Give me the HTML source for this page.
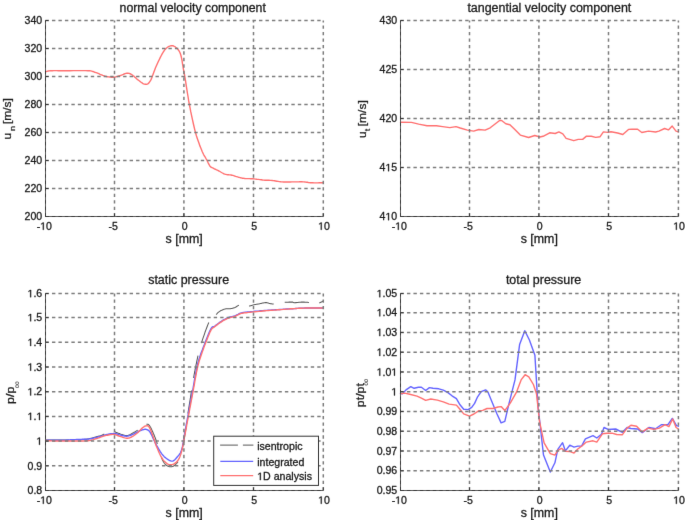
<!DOCTYPE html>
<html><head><meta charset="utf-8"><style>
html,body{margin:0;padding:0;background:#fff;}
svg{display:block;}
text{font-family:"Liberation Sans", sans-serif;stroke:#1a1a1a;stroke-width:0.3px;}
</style></head><body>
<svg width="685" height="520" viewBox="0 0 685 520" font-family='"Liberation Sans", sans-serif' fill="#1a1a1a">
<defs><filter id="soft" x="0" y="0" width="100%" height="100%" color-interpolation-filters="sRGB"><feConvolveMatrix order="3" kernelMatrix="0 1 0 1 12 1 0 1 0" divisor="16" edgeMode="duplicate"/></filter></defs>
<g filter="url(#soft)">
<rect width="685" height="520" fill="#ffffff"/>
<path d="M45.6 71.7 L46.0 71.6 L46.4 71.5 L47.0 71.4 L47.6 71.2 L48.3 71.0 L49.1 70.9 L50.1 70.8 L51.2 70.7 L52.4 70.7 L53.7 70.6 L55.1 70.6 L56.7 70.6 L58.4 70.7 L60.2 70.7 L62.2 70.7 L64.4 70.7 L67.0 70.7 L69.9 70.7 L73.2 70.6 L76.5 70.6 L79.8 70.6 L82.9 70.6 L85.7 70.6 L87.9 70.7 L89.6 70.8 L90.8 70.9 L91.7 71.1 L92.3 71.3 L92.9 71.5 L93.5 71.7 L94.2 72.0 L95.1 72.3 L96.2 72.7 L97.5 73.2 L98.8 73.7 L100.1 74.3 L101.5 74.8 L102.8 75.4 L104.1 75.8 L105.3 76.2 L106.4 76.5 L107.5 76.7 L108.6 76.9 L109.7 77.0 L110.7 77.1 L111.6 77.2 L112.6 77.2 L113.5 77.2 L114.4 77.1 L115.1 77.0 L115.9 76.9 L116.6 76.7 L117.3 76.5 L118.0 76.3 L118.8 76.0 L119.6 75.8 L120.5 75.5 L121.4 75.2 L122.3 74.8 L123.3 74.4 L124.2 74.0 L125.1 73.7 L126.0 73.4 L126.8 73.3 L127.5 73.3 L128.2 73.3 L128.8 73.4 L129.4 73.5 L130.0 73.7 L130.6 74.0 L131.2 74.3 L131.9 74.7 L132.6 75.2 L133.3 75.8 L134.1 76.4 L134.8 77.1 L135.6 77.8 L136.4 78.6 L137.2 79.3 L138.0 79.9 L138.9 80.5 L139.8 81.2 L140.7 82.0 L141.7 82.6 L142.6 83.3 L143.5 83.8 L144.4 84.1 L145.2 84.3 L145.9 84.3 L146.6 84.3 L147.2 84.1 L147.8 83.8 L148.4 83.4 L149.0 82.8 L149.6 81.9 L150.3 80.9 L151.0 79.6 L151.7 78.0 L152.4 76.1 L153.2 74.1 L153.9 72.0 L154.7 69.9 L155.5 67.8 L156.4 65.8 L157.3 63.8 L158.2 61.8 L159.2 59.7 L160.2 57.6 L161.3 55.5 L162.3 53.7 L163.3 52.0 L164.2 50.6 L165.1 49.4 L166.0 48.5 L166.9 47.7 L167.8 47.0 L168.7 46.5 L169.6 46.2 L170.4 45.9 L171.2 45.7 L172.0 45.6 L172.8 45.7 L173.5 45.9 L174.2 46.3 L175.0 46.7 L175.6 47.2 L176.3 47.7 L176.9 48.3 L177.5 48.9 L178.0 49.5 L178.5 50.2 L179.0 50.9 L179.5 51.7 L180.0 52.7 L180.4 53.8 L180.8 55.0 L181.2 56.5 L181.6 58.3 L182.0 60.2 L182.3 62.3 L182.6 64.4 L183.0 66.3 L183.2 68.1 L183.5 69.6 L183.7 70.7 L183.8 71.3 L183.9 71.7 L184.0 72.1 L184.1 72.6 L184.3 73.3 L184.5 74.5 L184.8 76.3 L185.2 78.8 L185.7 81.9 L186.2 85.3 L186.8 89.1 L187.4 93.0 L188.1 97.0 L188.7 100.9 L189.4 104.6 L190.1 108.2 L190.8 111.9 L191.6 115.6 L192.4 119.3 L193.2 123.0 L194.0 126.5 L194.8 129.8 L195.6 132.9 L196.4 135.8 L197.3 138.5 L198.2 141.1 L199.1 143.6 L199.9 145.9 L200.8 148.0 L201.6 149.9 L202.3 151.7 L203.0 153.2 L203.6 154.5 L204.1 155.5 L204.7 156.4 L205.2 157.2 L205.7 158.0 L206.1 158.8 L206.6 159.6 L207.1 160.5 L207.5 161.4 L207.9 162.3 L208.3 163.1 L208.7 163.9 L209.1 164.7 L209.5 165.3 L209.8 165.9 L210.1 166.3 L210.3 166.6 L210.5 166.8 L210.7 167.0 L210.9 167.1 L211.2 167.2 L211.5 167.4 L212.0 167.6 L212.6 167.9 L213.3 168.2 L214.0 168.6 L214.8 169.0 L215.7 169.4 L216.5 169.8 L217.4 170.2 L218.2 170.6 L219.0 171.0 L219.9 171.5 L220.7 172.0 L221.6 172.5 L222.4 173.0 L223.3 173.5 L224.1 173.9 L225.0 174.2 L225.9 174.4 L226.7 174.6 L227.6 174.7 L228.4 174.8 L229.3 174.9 L230.1 174.9 L231.0 175.0 L231.9 175.2 L232.8 175.4 L233.7 175.7 L234.7 176.0 L235.6 176.3 L236.6 176.6 L237.5 176.9 L238.4 177.2 L239.2 177.4 L240.0 177.6 L240.6 177.8 L241.3 177.9 L241.9 178.1 L242.5 178.2 L243.2 178.3 L243.9 178.4 L244.7 178.5 L245.6 178.6 L246.5 178.6 L247.5 178.6 L248.5 178.6 L249.5 178.6 L250.6 178.7 L251.7 178.7 L252.9 178.8 L254.2 178.9 L255.5 179.1 L256.9 179.3 L258.4 179.4 L259.9 179.6 L261.3 179.8 L262.6 180.0 L263.9 180.1 L265.0 180.2 L266.1 180.2 L267.1 180.3 L268.1 180.3 L269.0 180.3 L270.0 180.4 L271.0 180.4 L272.1 180.5 L273.2 180.6 L274.4 180.8 L275.6 181.0 L276.8 181.2 L278.1 181.4 L279.4 181.6 L280.7 181.8 L282.1 181.9 L283.6 182.0 L285.2 182.0 L286.9 182.0 L288.6 182.0 L290.2 182.0 L291.9 181.9 L293.5 181.9 L294.9 181.9 L296.2 181.9 L297.5 181.9 L298.7 181.9 L299.8 181.8 L300.9 181.8 L301.9 181.8 L303.0 181.9 L304.0 181.9 L305.0 182.0 L305.8 182.1 L306.7 182.2 L307.5 182.3 L308.3 182.5 L309.2 182.6 L310.2 182.7 L311.3 182.8 L312.6 182.8 L314.2 182.9 L315.9 182.9 L317.7 182.9 L319.4 182.8 L321.0 182.8 L322.3 182.8 L323.2 182.8" fill="none" stroke="#ff7070" stroke-width="1.4" stroke-linejoin="round" stroke-linecap="round"/>
<path d="M400.5 122.2 L411.5 122.4 L418.7 124.1 L427.0 125.7 L436.4 125.7 L442.6 126.6 L449.8 127.6 L456.0 126.6 L460.2 128.0 L467.4 130.1 L473.7 131.1 L478.8 129.5 L485.1 130.1 L490.2 127.8 L495.4 123.7 L499.6 120.5 L501.6 120.5 L505.8 123.7 L509.9 124.7 L514.1 128.8 L520.3 135.1 L528.6 137.5 L534.8 135.5 L539.9 137.0 L543.1 136.3 L549.7 132.8 L555.2 133.5 L558.9 131.9 L562.8 133.9 L566.1 138.3 L573.8 140.7 L578.2 139.4 L582.6 139.4 L586.5 136.1 L591.3 136.3 L595.7 137.4 L600.1 136.7 L603.4 131.9 L607.7 132.4 L611.0 131.7 L617.6 133.0 L622.8 134.5 L628.5 129.4 L631.9 129.3 L637.6 129.3 L641.8 132.5 L648.5 131.1 L655.6 132.0 L658.9 131.1 L664.6 128.5 L668.4 129.9 L672.2 126.1 L676.0 131.1 L678.4 131.8" fill="none" stroke="#ff7070" stroke-width="1.4" stroke-linejoin="round" stroke-linecap="round"/>
<path d="M45.6 440.0 L46.6 440.0 L48.0 440.0 L49.6 440.0 L51.3 440.0 L53.2 440.0 L55.3 440.0 L57.3 440.0 L59.4 440.0 L61.4 440.0 L63.3 440.0 L65.2 440.0 L67.2 439.9 L69.3 439.9 M81.0 439.6 L82.5 439.5 L83.7 439.4 L84.8 439.3 L85.7 439.3 L86.5 439.2 L87.1 439.1 L87.7 439.0 L88.3 438.9 L88.9 438.8 L89.5 438.6 L90.2 438.5 L90.9 438.3 L91.7 438.1 L92.4 437.9 L93.1 437.7 L93.8 437.5 L94.5 437.3 L95.2 437.1 L95.8 436.9 L96.4 436.7 L97.0 436.5 L97.5 436.4 L98.0 436.3 L98.5 436.2 L98.9 436.1 L99.3 436.0 L99.7 436.0 L100.1 435.9 L100.5 435.8 L101.0 435.7 L101.4 435.5 L101.9 435.3 L102.4 435.1 L102.8 434.8 L103.3 434.5 L103.8 434.3 L104.3 434.0 M115.0 431.8 L115.4 432.0 L115.8 432.2 L116.3 432.4 L116.7 432.6 L117.2 432.8 L117.7 433.0 L118.3 433.2 L118.9 433.4 L119.6 433.6 L120.3 433.9 L121.1 434.2 L121.9 434.4 L122.8 434.7 L123.6 435.0 L124.5 435.2 L125.3 435.4 L126.1 435.5 L126.8 435.5 L127.5 435.4 L128.1 435.3 L128.8 435.1 L129.4 434.9 L130.0 434.6 L130.6 434.3 L131.2 434.0 L131.7 433.6 L132.3 433.3 L132.9 433.0 L133.5 432.7 L134.1 432.3 L134.7 432.0 L135.3 431.6 L135.9 431.3 L136.5 430.9 L137.1 430.5 L137.6 430.1 M146.4 424.2 L146.8 424.2 L147.1 424.2 L147.5 424.2 L147.9 424.3 L148.3 424.5 L148.7 424.8 L149.1 425.2 L149.5 425.7 L150.0 426.4 L150.5 427.3 L151.1 428.3 L151.6 429.4 L152.2 430.7 L152.8 432.0 L153.4 433.5 L154.1 435.0 L154.7 436.6 L155.4 438.3 L156.0 440.0 L156.7 441.9 L157.3 444.0 M161.6 457.7 L162.3 459.5 L163.0 461.0 L163.7 462.2 L164.4 463.3 L165.1 464.2 L165.9 464.9 L166.6 465.5 L167.3 465.9 L168.0 466.3 L168.8 466.5 L169.5 466.7 L170.2 466.8 L170.9 466.8 L171.7 466.7 L172.4 466.5 L173.2 466.2 L174.0 465.8 L174.7 465.3 L175.4 464.7 L176.1 464.0 L176.8 463.3 L177.4 462.5 L178.0 461.6 M182.0 450.0 L182.4 448.1 L182.9 446.0 L183.3 443.8 L183.8 441.4 L184.2 438.9 L184.6 436.5 L185.0 434.1 L185.4 431.9 L185.7 429.8 L186.0 428.0 L186.2 426.5 M187.9 413.7 L188.4 410.4 L189.0 406.8 L189.6 402.8 L190.3 398.7 L190.9 394.5 L191.6 390.5 M193.6 378.0 L193.9 376.0 L194.2 374.3 L194.5 372.8 L194.7 371.4 L195.0 370.2 L195.2 368.9 L195.5 367.6 L195.8 366.2 L196.1 364.6 L196.5 362.8 L196.8 361.1 L197.2 359.3 L197.6 357.5 L198.0 355.6 M201.4 343.2 L202.2 340.6 L203.1 337.9 L204.1 335.1 L205.0 332.3 L206.0 329.6 L207.0 327.0 L207.9 324.6 L208.8 322.5 M216.1 314.5 L216.6 314.1 L217.0 313.7 L217.3 313.3 L217.6 313.0 L217.9 312.7 L218.2 312.4 L218.5 312.2 L218.8 311.9 L219.2 311.7 L219.6 311.4 L220.1 311.1 L220.6 310.8 L221.1 310.5 L221.7 310.3 L222.3 310.0 L222.9 309.7 L223.5 309.5 L224.1 309.2 L224.7 309.1 L225.3 308.9 L225.9 308.8 L226.5 308.7 L227.1 308.7 L227.6 308.7 L228.2 308.7 L228.8 308.7 L229.4 308.7 L229.9 308.7 L230.5 308.7 L231.0 308.6 L231.5 308.5 L232.0 308.4 L232.4 308.3 L232.9 308.2 L233.3 308.1 L233.7 308.0 L234.1 307.8 L234.5 307.7 L235.0 307.5 L235.4 307.3 L235.8 307.1 L236.3 306.8 L236.7 306.5 L237.1 306.2 L237.6 305.9 L238.0 305.6 L238.5 305.4 L238.9 305.1 M249.0 306.1 L249.5 306.0 L249.9 306.0 L250.4 305.8 L250.9 305.7 L251.4 305.5 L251.8 305.4 L252.3 305.2 L252.8 305.1 L253.3 304.9 L253.8 304.8 L254.3 304.7 L254.8 304.6 L255.3 304.5 L255.8 304.4 L256.3 304.3 L256.8 304.3 L257.3 304.2 L257.8 304.1 L258.4 304.0 L259.0 303.9 L259.6 303.8 L260.3 303.6 L261.1 303.5 L261.8 303.3 L262.6 303.1 L263.3 303.0 L264.1 302.8 L264.8 302.7 L265.4 302.6 L266.0 302.6 L266.5 302.6 L267.0 302.7 L267.4 302.8 L267.8 302.9 L268.2 303.0 L268.5 303.1 L268.9 303.3 L269.2 303.4 L269.6 303.5 L270.0 303.6 L270.4 303.7 L270.8 303.7 L271.2 303.8 L271.6 303.8 L272.0 303.9 L272.4 303.9 L272.8 303.9 L273.2 303.9 L273.7 303.9 M284.7 302.3 L285.5 302.3 L286.4 302.2 L287.3 302.2 L288.2 302.2 L289.1 302.1 L290.0 302.1 L290.8 302.1 L291.5 302.1 L292.1 302.1 L292.6 302.1 L292.9 302.2 L293.1 302.3 L293.3 302.3 L293.4 302.4 L293.5 302.5 L293.7 302.6 L293.9 302.6 L294.2 302.7 L294.6 302.7 L295.1 302.7 L295.8 302.6 L296.5 302.6 L297.2 302.5 L298.0 302.4 L298.8 302.3 L299.7 302.3 L300.5 302.2 L301.3 302.1 L302.0 302.1 L302.7 302.1 L303.4 302.1 L304.2 302.1 L304.9 302.2 L305.6 302.2 L306.3 302.2 L307.0 302.3 L307.6 302.3 L308.3 302.4 L308.9 302.4 M319.3 303.0 L319.8 302.8 L320.3 302.6 L320.8 302.3 L321.4 302.1 L321.8 301.8 L322.3 301.6 L322.7 301.3 L323.0 301.1 L323.3 301.0" fill="none" stroke="#5a5a5a" stroke-width="1.05" stroke-linejoin="round"/>
<path d="M45.6 440.2 L46.2 440.2 L47.0 440.2 L47.9 440.2 L49.0 440.2 L50.1 440.2 L51.3 440.2 L52.5 440.2 L53.6 440.2 L54.7 440.2 L55.9 440.2 L57.1 440.2 L58.3 440.2 L59.6 440.2 L60.8 440.2 L62.1 440.2 L63.3 440.2 L64.5 440.2 L65.7 440.1 L66.9 440.0 L68.1 440.0 L69.3 439.9 L70.5 439.8 L71.7 439.8 L72.9 439.7 L74.1 439.6 L75.3 439.6 L76.6 439.5 L77.8 439.5 L79.0 439.5 L80.2 439.4 L81.4 439.4 L82.5 439.3 L83.6 439.2 L84.6 439.2 L85.6 439.2 L86.5 439.1 L87.5 439.1 L88.4 439.0 L89.3 438.9 L90.2 438.8 L91.1 438.7 L92.0 438.5 L92.8 438.3 L93.7 438.1 L94.5 437.9 L95.3 437.7 L96.2 437.5 L97.0 437.3 L97.8 437.1 L98.7 436.8 L99.5 436.6 L100.4 436.3 L101.2 436.1 L102.1 435.9 L102.9 435.6 L103.7 435.4 L104.5 435.2 L105.3 435.0 L106.1 434.8 L106.9 434.5 L107.7 434.4 L108.5 434.2 L109.3 434.0 L110.0 433.9 L110.7 433.8 L111.4 433.7 L112.1 433.6 L112.8 433.6 L113.4 433.5 L114.1 433.5 L114.7 433.5 L115.4 433.6 L116.1 433.7 L116.7 433.9 L117.3 434.0 L118.0 434.3 L118.6 434.5 L119.2 434.7 L119.9 434.9 L120.6 435.1 L121.3 435.3 L122.1 435.5 L122.9 435.7 L123.7 435.8 L124.5 436.0 L125.3 436.1 L126.1 436.2 L126.8 436.2 L127.5 436.1 L128.2 436.0 L128.8 435.9 L129.5 435.7 L130.1 435.5 L130.7 435.2 L131.4 435.0 L132.0 434.7 L132.7 434.4 L133.3 434.1 L134.0 433.8 L134.7 433.4 L135.4 433.1 L136.0 432.7 L136.7 432.4 L137.3 432.1 L137.9 431.8 L138.5 431.5 L139.0 431.2 L139.6 431.0 L140.1 430.7 L140.6 430.5 L141.2 430.3 L141.7 430.1 L142.2 429.9 L142.8 429.8 L143.3 429.6 L143.9 429.5 L144.4 429.4 L144.9 429.3 L145.5 429.3 L146.0 429.4 L146.5 429.5 L147.0 429.6 L147.4 429.8 L147.9 430.0 L148.4 430.3 L148.9 430.7 L149.4 431.3 L150.0 432.1 L150.6 433.1 L151.3 434.4 L152.0 435.8 L152.7 437.4 L153.4 439.0 L154.2 440.7 L155.0 442.3 L155.8 443.8 L156.6 445.3 L157.5 446.8 L158.3 448.4 L159.2 449.9 L160.1 451.4 L161.1 452.8 L162.0 454.1 L163.0 455.3 L164.0 456.4 L165.1 457.4 L166.2 458.3 L167.4 459.2 L168.5 459.9 L169.6 460.5 L170.6 460.9 L171.6 461.1 L172.5 461.1 L173.3 460.8 L174.0 460.4 L174.8 459.8 L175.5 459.1 L176.1 458.3 L176.8 457.5 L177.4 456.8 L178.0 456.1 L178.6 455.4 L179.2 454.7 L179.7 453.9 L180.3 453.1 L180.8 452.1 L181.2 450.9 L181.7 449.6 L182.1 448.1 L182.5 446.4 L182.8 444.6 L183.2 442.6 L183.5 440.6 L183.8 438.4 L184.2 436.1 L184.6 433.7 L185.1 431.2 L185.6 428.5 L186.1 425.6 L186.7 422.6 L187.2 419.6 L187.8 416.6 L188.4 413.6 L188.9 410.7 L189.4 407.8 L190.0 404.9 L190.5 402.0 L191.1 399.2 L191.6 396.3 L192.1 393.4 L192.7 390.5 L193.2 387.6 L193.7 384.7 L194.2 381.7 L194.7 378.7 L195.3 375.7 L195.8 372.8 L196.3 369.9 L196.9 367.2 L197.5 364.6 L198.1 362.2 L198.8 359.9 L199.5 357.7 L200.2 355.6 L200.9 353.6 L201.7 351.5 L202.5 349.5 L203.3 347.3 L204.2 345.0 L205.1 342.5 L206.1 339.9 L207.1 337.4 L208.1 334.9 L209.0 332.7 L209.9 330.8 L210.7 329.2 L211.4 328.1 L211.9 327.4 L212.4 327.0 L212.8 326.8 L213.2 326.7 L213.7 326.6 L214.2 326.4 L214.9 326.0 L215.7 325.4 L216.5 324.8 L217.5 324.1 L218.5 323.3 L219.5 322.6 L220.4 321.9 L221.4 321.3 L222.3 320.7 L223.1 320.2 L224.0 319.7 L224.8 319.3 L225.6 318.9 L226.4 318.5 L227.1 318.1 L227.9 317.8 L228.7 317.5 L229.5 317.2 L230.3 317.0 L231.1 316.8 L231.8 316.6 L232.6 316.5 L233.4 316.3 L234.2 316.1 L235.0 315.8 L235.8 315.5 L236.5 315.1 L237.3 314.7 L238.1 314.3 L238.8 313.9 L239.7 313.5 L240.5 313.2 L241.4 312.9 L242.3 312.7 L243.2 312.5 L244.2 312.4 L245.1 312.2 L246.2 312.1 L247.3 312.0 L248.5 311.9 L249.9 311.8 L251.4 311.6 L253.2 311.5 L255.0 311.3 L256.9 311.1 L258.9 311.0 L260.9 310.8 L262.8 310.6 L264.7 310.5 L266.6 310.4 L268.4 310.2 L270.2 310.1 L272.1 310.0 L273.9 309.9 L275.8 309.7 L277.6 309.6 L279.5 309.5 L281.4 309.4 L283.2 309.3 L285.1 309.1 L287.0 309.0 L288.9 308.9 L290.7 308.8 L292.6 308.7 L294.3 308.6 L296.0 308.5 L297.5 308.4 L299.1 308.3 L300.6 308.2 L302.1 308.2 L303.6 308.1 L305.3 308.0 L307.0 308.0 L309.0 308.0 L311.2 308.0 L313.5 308.0 L315.9 308.0 L318.2 308.0 L320.2 308.0 L321.9 308.0 L323.2 308.0" fill="none" stroke="#6464ff" stroke-width="1.4" stroke-linejoin="round" stroke-linecap="round"/>
<path d="M45.6 440.4 L46.2 440.5 L47.0 440.5 L47.9 440.6 L49.0 440.7 L50.1 440.8 L51.3 440.9 L52.5 440.9 L53.6 441.0 L54.7 441.0 L55.9 441.0 L57.1 441.0 L58.3 441.0 L59.6 441.0 L60.8 441.0 L62.1 441.0 L63.3 441.0 L64.5 441.0 L65.7 441.0 L66.9 441.0 L68.1 441.0 L69.3 441.0 L70.5 441.0 L71.7 441.0 L72.9 441.0 L74.1 441.0 L75.3 441.0 L76.6 441.0 L77.8 441.0 L79.0 441.0 L80.2 441.0 L81.4 441.0 L82.5 441.0 L83.5 441.0 L84.5 440.9 L85.5 440.9 L86.4 440.9 L87.3 440.8 L88.3 440.7 L89.2 440.6 L90.2 440.4 L91.2 440.2 L92.3 439.9 L93.5 439.6 L94.6 439.2 L95.7 438.8 L96.8 438.5 L97.8 438.1 L98.8 437.8 L99.7 437.5 L100.5 437.2 L101.3 436.9 L102.1 436.6 L102.8 436.3 L103.6 436.1 L104.4 435.8 L105.3 435.6 L106.3 435.4 L107.3 435.2 L108.4 435.0 L109.5 434.8 L110.6 434.6 L111.7 434.5 L112.7 434.4 L113.6 434.4 L114.4 434.5 L115.1 434.6 L115.7 434.8 L116.3 435.0 L116.9 435.2 L117.5 435.5 L118.1 435.8 L118.9 436.0 L119.8 436.3 L120.8 436.6 L121.8 436.9 L122.9 437.3 L123.9 437.6 L125.0 437.9 L125.9 438.1 L126.8 438.2 L127.6 438.2 L128.3 438.1 L128.9 438.0 L129.6 437.8 L130.2 437.6 L130.8 437.3 L131.4 437.0 L132.0 436.7 L132.7 436.3 L133.3 435.9 L134.0 435.5 L134.7 435.0 L135.4 434.5 L136.0 434.0 L136.7 433.5 L137.3 433.0 L137.9 432.5 L138.5 431.9 L139.0 431.3 L139.6 430.7 L140.1 430.2 L140.6 429.6 L141.2 429.1 L141.7 428.6 L142.2 428.1 L142.8 427.7 L143.3 427.2 L143.9 426.8 L144.4 426.4 L144.9 426.2 L145.5 426.0 L146.0 425.9 L146.5 425.9 L146.9 425.8 L147.4 425.8 L147.8 425.9 L148.3 426.1 L148.8 426.6 L149.3 427.4 L150.0 428.6 L150.8 430.3 L151.6 432.5 L152.5 435.0 L153.5 437.8 L154.5 440.6 L155.4 443.4 L156.3 445.9 L157.2 448.1 L158.0 450.0 L158.7 451.7 L159.4 453.3 L160.1 454.7 L160.8 456.1 L161.5 457.4 L162.2 458.5 L163.0 459.6 L163.8 460.6 L164.7 461.6 L165.6 462.4 L166.5 463.2 L167.4 463.8 L168.4 464.3 L169.3 464.6 L170.2 464.8 L171.1 464.8 L172.1 464.7 L173.0 464.3 L174.0 463.9 L174.9 463.3 L175.8 462.7 L176.6 461.9 L177.4 461.1 L178.1 460.2 L178.7 459.2 L179.3 458.1 L179.8 456.9 L180.3 455.6 L180.8 454.2 L181.2 452.7 L181.7 451.0 L182.2 449.2 L182.6 447.2 L183.0 445.2 L183.4 443.0 L183.8 440.7 L184.2 438.4 L184.7 436.1 L185.1 433.7 L185.6 431.3 L186.0 428.9 L186.5 426.5 L186.9 424.0 L187.4 421.4 L187.9 418.8 L188.4 416.2 L188.9 413.5 L189.4 410.8 L189.9 407.9 L190.5 405.1 L191.0 402.2 L191.6 399.2 L192.1 396.3 L192.7 393.4 L193.2 390.5 L193.7 387.6 L194.3 384.6 L194.8 381.5 L195.3 378.5 L195.9 375.5 L196.4 372.7 L197.0 370.0 L197.5 367.5 L198.0 365.3 L198.6 363.2 L199.1 361.3 L199.7 359.5 L200.3 357.8 L200.8 356.2 L201.4 354.6 L201.9 353.0 L202.4 351.4 L203.0 349.9 L203.5 348.5 L204.0 347.1 L204.5 345.7 L205.1 344.3 L205.6 342.9 L206.2 341.5 L206.8 340.0 L207.4 338.4 L208.0 336.8 L208.7 335.2 L209.3 333.7 L209.9 332.3 L210.5 331.1 L211.1 330.0 L211.6 329.2 L212.0 328.6 L212.4 328.2 L212.8 327.9 L213.3 327.6 L213.7 327.3 L214.3 327.0 L214.9 326.5 L215.7 325.9 L216.5 325.3 L217.5 324.6 L218.4 323.8 L219.4 323.1 L220.4 322.4 L221.4 321.8 L222.3 321.2 L223.1 320.7 L224.0 320.2 L224.8 319.8 L225.6 319.4 L226.4 319.0 L227.1 318.6 L227.9 318.3 L228.7 318.0 L229.5 317.7 L230.3 317.5 L231.1 317.3 L231.8 317.1 L232.6 317.0 L233.4 316.8 L234.2 316.6 L235.0 316.3 L235.8 316.0 L236.5 315.6 L237.3 315.2 L238.1 314.8 L238.8 314.4 L239.7 314.0 L240.5 313.7 L241.4 313.4 L242.3 313.2 L243.2 313.0 L244.2 312.9 L245.1 312.8 L246.2 312.7 L247.3 312.6 L248.5 312.4 L249.9 312.3 L251.4 312.1 L253.2 311.9 L255.0 311.7 L256.9 311.6 L258.9 311.4 L260.9 311.2 L262.8 311.0 L264.7 310.8 L266.6 310.6 L268.4 310.5 L270.2 310.4 L272.1 310.2 L273.9 310.1 L275.8 310.0 L277.6 309.8 L279.5 309.7 L281.4 309.6 L283.2 309.4 L285.1 309.3 L287.0 309.1 L288.9 309.0 L290.7 308.8 L292.6 308.7 L294.3 308.6 L296.0 308.5 L297.5 308.4 L299.1 308.3 L300.6 308.2 L302.1 308.2 L303.6 308.1 L305.3 308.0 L307.0 308.0 L309.0 308.0 L311.2 308.0 L313.5 308.0 L315.9 308.0 L318.2 308.0 L320.2 308.0 L321.9 308.0 L323.2 308.0" fill="none" stroke="#ff7070" stroke-width="1.4" stroke-linejoin="round" stroke-linecap="round"/>
<path d="M400.5 393.4 L402.4 393.9 L406.0 389.9 L410.8 386.6 L414.1 388.3 L418.4 387.3 L421.4 387.3 L425.7 390.5 L429.4 387.6 L433.0 388.3 L438.9 388.8 L443.3 390.2 L447.6 392.4 L452.0 395.8 L456.4 398.7 L460.0 404.8 L463.7 409.2 L468.1 409.6 L471.7 407.4 L474.6 403.4 L477.6 396.8 L481.2 391.7 L485.6 389.9 L487.8 391.7 L491.4 400.4 L496.9 413.8 L501.1 422.9 L504.8 421.3 L508.8 404.4 L515.0 379.9 L519.6 344.6 L524.8 330.7 L529.4 340.0 L534.9 355.3 L538.0 406.0 L543.5 455.1 L550.3 472.0 L554.9 462.8 L557.8 449.3 L562.6 442.7 L565.4 450.9 L569.8 445.2 L574.0 447.1 L577.8 446.1 L581.6 446.1 L585.4 438.9 L593.0 435.7 L596.8 438.0 L601.5 434.2 L604.0 427.5 L608.1 429.4 L615.7 429.0 L622.4 432.3 L627.1 427.5 L630.9 428.5 L637.6 429.0 L642.3 432.6 L648.9 427.5 L655.6 428.8 L661.3 424.7 L667.9 424.7 L672.3 418.4 L676.5 425.6 L678.4 426.2" fill="none" stroke="#6464ff" stroke-width="1.4" stroke-linejoin="round" stroke-linecap="round"/>
<path d="M400.5 393.9 L404.6 393.1 L409.7 394.3 L417.0 396.1 L421.4 398.2 L425.7 400.4 L430.8 399.0 L437.4 400.1 L443.3 401.9 L449.1 404.1 L456.4 405.1 L459.3 408.5 L463.7 413.9 L469.5 416.1 L473.9 414.0 L479.0 410.7 L482.7 410.4 L487.0 408.5 L492.9 408.5 L498.0 407.0 L501.1 406.6 L504.8 410.6 L510.4 402.9 L516.5 392.2 L521.1 379.9 L525.1 374.7 L528.8 376.8 L533.4 384.5 L536.5 393.7 L539.5 421.3 L544.1 442.8 L550.3 453.6 L554.9 455.1 L557.8 450.3 L561.6 448.4 L565.4 451.2 L570.2 451.6 L574.0 453.1 L577.8 449.0 L582.5 445.5 L586.3 442.1 L593.0 440.8 L596.8 442.1 L602.4 433.8 L607.2 433.2 L612.0 433.2 L616.7 434.5 L622.4 434.7 L627.1 428.1 L630.9 425.2 L636.6 426.2 L642.3 431.9 L648.0 428.1 L653.7 429.4 L659.4 428.1 L665.1 424.7 L668.9 426.6 L672.7 419.0 L676.1 427.5 L678.4 429.0" fill="none" stroke="#ff7070" stroke-width="1.4" stroke-linejoin="round" stroke-linecap="round"/>
<line x1="45.5" y1="188.50" x2="323.3" y2="188.50" stroke="#7c7c7c" stroke-width="1.5" stroke-dasharray="3.4 3.07"/>
<line x1="45.5" y1="160.50" x2="323.3" y2="160.50" stroke="#7c7c7c" stroke-width="1.5" stroke-dasharray="3.4 3.07"/>
<line x1="45.5" y1="132.50" x2="323.3" y2="132.50" stroke="#7c7c7c" stroke-width="1.5" stroke-dasharray="3.4 3.07"/>
<line x1="45.5" y1="104.50" x2="323.3" y2="104.50" stroke="#7c7c7c" stroke-width="1.5" stroke-dasharray="3.4 3.07"/>
<line x1="45.5" y1="76.50" x2="323.3" y2="76.50" stroke="#7c7c7c" stroke-width="1.5" stroke-dasharray="3.4 3.07"/>
<line x1="45.5" y1="48.50" x2="323.3" y2="48.50" stroke="#7c7c7c" stroke-width="1.5" stroke-dasharray="3.4 3.07"/>
<line x1="45.5" y1="20.50" x2="323.3" y2="20.50" stroke="#7c7c7c" stroke-width="1.5" stroke-dasharray="3.4 3.07"/>
<line x1="114.50" y1="216.5" x2="114.50" y2="20.5" stroke="#7c7c7c" stroke-width="1.5" stroke-dasharray="3.4 3.07"/>
<line x1="183.90" y1="216.5" x2="183.90" y2="20.5" stroke="#7c7c7c" stroke-width="1.5" stroke-dasharray="3.4 3.07"/>
<line x1="253.50" y1="216.5" x2="253.50" y2="20.5" stroke="#7c7c7c" stroke-width="1.5" stroke-dasharray="3.4 3.07"/>
<line x1="323.30" y1="216.5" x2="323.30" y2="20.5" stroke="#7c7c7c" stroke-width="1.5" stroke-dasharray="3.4 3.07"/>
<line x1="400.5" y1="167.50" x2="678.4" y2="167.50" stroke="#7c7c7c" stroke-width="1.5" stroke-dasharray="3.4 3.07"/>
<line x1="400.5" y1="118.50" x2="678.4" y2="118.50" stroke="#7c7c7c" stroke-width="1.5" stroke-dasharray="3.4 3.07"/>
<line x1="400.5" y1="69.50" x2="678.4" y2="69.50" stroke="#7c7c7c" stroke-width="1.5" stroke-dasharray="3.4 3.07"/>
<line x1="400.5" y1="20.50" x2="678.4" y2="20.50" stroke="#7c7c7c" stroke-width="1.5" stroke-dasharray="3.4 3.07"/>
<line x1="469.50" y1="216.5" x2="469.50" y2="20.5" stroke="#7c7c7c" stroke-width="1.5" stroke-dasharray="3.4 3.07"/>
<line x1="538.90" y1="216.5" x2="538.90" y2="20.5" stroke="#7c7c7c" stroke-width="1.5" stroke-dasharray="3.4 3.07"/>
<line x1="608.50" y1="216.5" x2="608.50" y2="20.5" stroke="#7c7c7c" stroke-width="1.5" stroke-dasharray="3.4 3.07"/>
<line x1="678.40" y1="216.5" x2="678.40" y2="20.5" stroke="#7c7c7c" stroke-width="1.5" stroke-dasharray="3.4 3.07"/>
<line x1="45.5" y1="465.80" x2="323.3" y2="465.80" stroke="#7c7c7c" stroke-width="1.5" stroke-dasharray="3.4 3.07"/>
<line x1="45.5" y1="441.10" x2="323.3" y2="441.10" stroke="#7c7c7c" stroke-width="1.5" stroke-dasharray="3.4 3.07"/>
<line x1="45.5" y1="416.40" x2="323.3" y2="416.40" stroke="#7c7c7c" stroke-width="1.5" stroke-dasharray="3.4 3.07"/>
<line x1="45.5" y1="391.70" x2="323.3" y2="391.70" stroke="#7c7c7c" stroke-width="1.5" stroke-dasharray="3.4 3.07"/>
<line x1="45.5" y1="367.00" x2="323.3" y2="367.00" stroke="#7c7c7c" stroke-width="1.5" stroke-dasharray="3.4 3.07"/>
<line x1="45.5" y1="342.30" x2="323.3" y2="342.30" stroke="#7c7c7c" stroke-width="1.5" stroke-dasharray="3.4 3.07"/>
<line x1="45.5" y1="317.60" x2="323.3" y2="317.60" stroke="#7c7c7c" stroke-width="1.5" stroke-dasharray="3.4 3.07"/>
<line x1="45.5" y1="293.50" x2="323.3" y2="293.50" stroke="#7c7c7c" stroke-width="1.5" stroke-dasharray="3.4 3.07"/>
<line x1="114.50" y1="490.5" x2="114.50" y2="293.5" stroke="#7c7c7c" stroke-width="1.5" stroke-dasharray="3.4 3.07"/>
<line x1="183.90" y1="490.5" x2="183.90" y2="293.5" stroke="#7c7c7c" stroke-width="1.5" stroke-dasharray="3.4 3.07"/>
<line x1="253.50" y1="490.5" x2="253.50" y2="293.5" stroke="#7c7c7c" stroke-width="1.5" stroke-dasharray="3.4 3.07"/>
<line x1="323.30" y1="490.5" x2="323.30" y2="293.5" stroke="#7c7c7c" stroke-width="1.5" stroke-dasharray="3.4 3.07"/>
<line x1="400.5" y1="470.74" x2="678.4" y2="470.74" stroke="#7c7c7c" stroke-width="1.5" stroke-dasharray="3.4 3.07"/>
<line x1="400.5" y1="450.98" x2="678.4" y2="450.98" stroke="#7c7c7c" stroke-width="1.5" stroke-dasharray="3.4 3.07"/>
<line x1="400.5" y1="431.22" x2="678.4" y2="431.22" stroke="#7c7c7c" stroke-width="1.5" stroke-dasharray="3.4 3.07"/>
<line x1="400.5" y1="411.46" x2="678.4" y2="411.46" stroke="#7c7c7c" stroke-width="1.5" stroke-dasharray="3.4 3.07"/>
<line x1="400.5" y1="391.70" x2="678.4" y2="391.70" stroke="#7c7c7c" stroke-width="1.5" stroke-dasharray="3.4 3.07"/>
<line x1="400.5" y1="371.94" x2="678.4" y2="371.94" stroke="#7c7c7c" stroke-width="1.5" stroke-dasharray="3.4 3.07"/>
<line x1="400.5" y1="352.18" x2="678.4" y2="352.18" stroke="#7c7c7c" stroke-width="1.5" stroke-dasharray="3.4 3.07"/>
<line x1="400.5" y1="332.42" x2="678.4" y2="332.42" stroke="#7c7c7c" stroke-width="1.5" stroke-dasharray="3.4 3.07"/>
<line x1="400.5" y1="312.66" x2="678.4" y2="312.66" stroke="#7c7c7c" stroke-width="1.5" stroke-dasharray="3.4 3.07"/>
<line x1="400.5" y1="293.50" x2="678.4" y2="293.50" stroke="#7c7c7c" stroke-width="1.5" stroke-dasharray="3.4 3.07"/>
<line x1="469.50" y1="490.5" x2="469.50" y2="293.5" stroke="#7c7c7c" stroke-width="1.5" stroke-dasharray="3.4 3.07"/>
<line x1="538.90" y1="490.5" x2="538.90" y2="293.5" stroke="#7c7c7c" stroke-width="1.5" stroke-dasharray="3.4 3.07"/>
<line x1="608.50" y1="490.5" x2="608.50" y2="293.5" stroke="#7c7c7c" stroke-width="1.5" stroke-dasharray="3.4 3.07"/>
<line x1="678.40" y1="490.5" x2="678.40" y2="293.5" stroke="#7c7c7c" stroke-width="1.5" stroke-dasharray="3.4 3.07"/>
<path d="M45.5 20.5V216.5H323.3" fill="none" stroke="#585858" stroke-width="1"/>
<line x1="45.5" y1="216.5" x2="323.3" y2="216.5" stroke="#363636" stroke-width="1" stroke-dasharray="3.4 3.07"/>
<line x1="45.5" y1="216.5" x2="45.5" y2="20.5" stroke="#363636" stroke-width="1" stroke-dasharray="3.4 3.07"/>
<path d="M45.5 216.50h3.0" stroke="#363636" stroke-width="1"/>
<path d="M45.5 188.50h3.0" stroke="#363636" stroke-width="1"/>
<path d="M45.5 160.50h3.0" stroke="#363636" stroke-width="1"/>
<path d="M45.5 132.50h3.0" stroke="#363636" stroke-width="1"/>
<path d="M45.5 104.50h3.0" stroke="#363636" stroke-width="1"/>
<path d="M45.5 76.50h3.0" stroke="#363636" stroke-width="1"/>
<path d="M45.5 48.50h3.0" stroke="#363636" stroke-width="1"/>
<path d="M45.5 20.50h3.0" stroke="#363636" stroke-width="1"/>
<path d="M45.50 216.5v-3.0" stroke="#363636" stroke-width="1"/>
<path d="M114.50 216.5v-3.0" stroke="#363636" stroke-width="1"/>
<path d="M183.90 216.5v-3.0" stroke="#363636" stroke-width="1"/>
<path d="M253.50 216.5v-3.0" stroke="#363636" stroke-width="1"/>
<path d="M323.30 216.5v-3.0" stroke="#363636" stroke-width="1"/>
<text x="42.20" y="220.20" text-anchor="end" font-size="10.55">200</text>
<text x="42.20" y="192.20" text-anchor="end" font-size="10.55">220</text>
<text x="42.20" y="164.20" text-anchor="end" font-size="10.55">240</text>
<text x="42.20" y="136.20" text-anchor="end" font-size="10.55">260</text>
<text x="42.20" y="108.20" text-anchor="end" font-size="10.55">280</text>
<text x="42.20" y="80.20" text-anchor="end" font-size="10.55">300</text>
<text x="42.20" y="52.20" text-anchor="end" font-size="10.55">320</text>
<text x="42.20" y="24.20" text-anchor="end" font-size="10.55">340</text>
<text x="36.68" y="229.80" font-size="10.55">- 0</text>
<path transform="translate(40.19 229.80) scale(0.00515 -0.00515)" d="M515 0L515 1237L197 1010L197 1180L530 1409L696 1409L696 0Z" fill="#1a1a1a" stroke="#1a1a1a" stroke-width="58.2"/>
<text x="113.30" y="229.80" text-anchor="middle" font-size="10.55">-5</text>
<text x="184.60" y="229.80" text-anchor="middle" font-size="10.55">0</text>
<text x="254.20" y="229.80" text-anchor="middle" font-size="10.55">5</text>
<text x="318.13" y="229.80" font-size="10.55"> 0</text>
<path transform="translate(318.13 229.80) scale(0.00515 -0.00515)" d="M515 0L515 1237L197 1010L197 1180L530 1409L696 1409L696 0Z" fill="#1a1a1a" stroke="#1a1a1a" stroke-width="58.2"/>
<text x="184.20" y="242.90" text-anchor="middle" font-size="12.4">s [mm]</text>
<path d="M400.5 20.5V216.5H678.4" fill="none" stroke="#585858" stroke-width="1"/>
<line x1="400.5" y1="216.5" x2="678.4" y2="216.5" stroke="#363636" stroke-width="1" stroke-dasharray="3.4 3.07"/>
<line x1="400.5" y1="216.5" x2="400.5" y2="20.5" stroke="#363636" stroke-width="1" stroke-dasharray="3.4 3.07"/>
<path d="M400.5 216.50h3.0" stroke="#363636" stroke-width="1"/>
<path d="M400.5 167.50h3.0" stroke="#363636" stroke-width="1"/>
<path d="M400.5 118.50h3.0" stroke="#363636" stroke-width="1"/>
<path d="M400.5 69.50h3.0" stroke="#363636" stroke-width="1"/>
<path d="M400.5 20.50h3.0" stroke="#363636" stroke-width="1"/>
<path d="M400.50 216.5v-3.0" stroke="#363636" stroke-width="1"/>
<path d="M469.50 216.5v-3.0" stroke="#363636" stroke-width="1"/>
<path d="M538.90 216.5v-3.0" stroke="#363636" stroke-width="1"/>
<path d="M608.50 216.5v-3.0" stroke="#363636" stroke-width="1"/>
<path d="M678.40 216.5v-3.0" stroke="#363636" stroke-width="1"/>
<text x="379.60" y="220.20" font-size="10.55">4 0</text>
<path transform="translate(385.47 220.20) scale(0.00515 -0.00515)" d="M515 0L515 1237L197 1010L197 1180L530 1409L696 1409L696 0Z" fill="#1a1a1a" stroke="#1a1a1a" stroke-width="58.2"/>
<text x="379.60" y="171.20" font-size="10.55">4 5</text>
<path transform="translate(385.47 171.20) scale(0.00515 -0.00515)" d="M515 0L515 1237L197 1010L197 1180L530 1409L696 1409L696 0Z" fill="#1a1a1a" stroke="#1a1a1a" stroke-width="58.2"/>
<text x="397.20" y="122.20" text-anchor="end" font-size="10.55">420</text>
<text x="397.20" y="73.20" text-anchor="end" font-size="10.55">425</text>
<text x="397.20" y="24.20" text-anchor="end" font-size="10.55">430</text>
<text x="391.68" y="229.80" font-size="10.55">- 0</text>
<path transform="translate(395.19 229.80) scale(0.00515 -0.00515)" d="M515 0L515 1237L197 1010L197 1180L530 1409L696 1409L696 0Z" fill="#1a1a1a" stroke="#1a1a1a" stroke-width="58.2"/>
<text x="468.30" y="229.80" text-anchor="middle" font-size="10.55">-5</text>
<text x="539.60" y="229.80" text-anchor="middle" font-size="10.55">0</text>
<text x="609.20" y="229.80" text-anchor="middle" font-size="10.55">5</text>
<text x="673.23" y="229.80" font-size="10.55"> 0</text>
<path transform="translate(673.23 229.80) scale(0.00515 -0.00515)" d="M515 0L515 1237L197 1010L197 1180L530 1409L696 1409L696 0Z" fill="#1a1a1a" stroke="#1a1a1a" stroke-width="58.2"/>
<text x="539.25" y="242.90" text-anchor="middle" font-size="12.4">s [mm]</text>
<path d="M45.5 293.5V490.5H323.3" fill="none" stroke="#585858" stroke-width="1"/>
<line x1="45.5" y1="490.5" x2="323.3" y2="490.5" stroke="#363636" stroke-width="1" stroke-dasharray="3.4 3.07"/>
<line x1="45.5" y1="490.5" x2="45.5" y2="293.5" stroke="#363636" stroke-width="1" stroke-dasharray="3.4 3.07"/>
<path d="M45.5 490.50h3.0" stroke="#363636" stroke-width="1"/>
<path d="M45.5 465.80h3.0" stroke="#363636" stroke-width="1"/>
<path d="M45.5 441.10h3.0" stroke="#363636" stroke-width="1"/>
<path d="M45.5 416.40h3.0" stroke="#363636" stroke-width="1"/>
<path d="M45.5 391.70h3.0" stroke="#363636" stroke-width="1"/>
<path d="M45.5 367.00h3.0" stroke="#363636" stroke-width="1"/>
<path d="M45.5 342.30h3.0" stroke="#363636" stroke-width="1"/>
<path d="M45.5 317.60h3.0" stroke="#363636" stroke-width="1"/>
<path d="M45.5 293.50h3.0" stroke="#363636" stroke-width="1"/>
<path d="M45.50 490.5v-3.0" stroke="#363636" stroke-width="1"/>
<path d="M114.50 490.5v-3.0" stroke="#363636" stroke-width="1"/>
<path d="M183.90 490.5v-3.0" stroke="#363636" stroke-width="1"/>
<path d="M253.50 490.5v-3.0" stroke="#363636" stroke-width="1"/>
<path d="M323.30 490.5v-3.0" stroke="#363636" stroke-width="1"/>
<text x="42.20" y="494.20" text-anchor="end" font-size="10.55">0.8</text>
<text x="42.20" y="469.50" text-anchor="end" font-size="10.55">0.9</text>
<text x="36.33" y="444.80" font-size="10.55"> </text>
<path transform="translate(36.33 444.80) scale(0.00515 -0.00515)" d="M515 0L515 1237L197 1010L197 1180L530 1409L696 1409L696 0Z" fill="#1a1a1a" stroke="#1a1a1a" stroke-width="58.2"/>
<text x="27.53" y="420.10" font-size="10.55"> . </text>
<path transform="translate(27.53 420.10) scale(0.00515 -0.00515)" d="M515 0L515 1237L197 1010L197 1180L530 1409L696 1409L696 0Z" fill="#1a1a1a" stroke="#1a1a1a" stroke-width="58.2"/>
<path transform="translate(36.33 420.10) scale(0.00515 -0.00515)" d="M515 0L515 1237L197 1010L197 1180L530 1409L696 1409L696 0Z" fill="#1a1a1a" stroke="#1a1a1a" stroke-width="58.2"/>
<text x="27.53" y="395.40" font-size="10.55"> .2</text>
<path transform="translate(27.53 395.40) scale(0.00515 -0.00515)" d="M515 0L515 1237L197 1010L197 1180L530 1409L696 1409L696 0Z" fill="#1a1a1a" stroke="#1a1a1a" stroke-width="58.2"/>
<text x="27.53" y="370.70" font-size="10.55"> .3</text>
<path transform="translate(27.53 370.70) scale(0.00515 -0.00515)" d="M515 0L515 1237L197 1010L197 1180L530 1409L696 1409L696 0Z" fill="#1a1a1a" stroke="#1a1a1a" stroke-width="58.2"/>
<text x="27.53" y="346.00" font-size="10.55"> .4</text>
<path transform="translate(27.53 346.00) scale(0.00515 -0.00515)" d="M515 0L515 1237L197 1010L197 1180L530 1409L696 1409L696 0Z" fill="#1a1a1a" stroke="#1a1a1a" stroke-width="58.2"/>
<text x="27.53" y="321.30" font-size="10.55"> .5</text>
<path transform="translate(27.53 321.30) scale(0.00515 -0.00515)" d="M515 0L515 1237L197 1010L197 1180L530 1409L696 1409L696 0Z" fill="#1a1a1a" stroke="#1a1a1a" stroke-width="58.2"/>
<text x="27.53" y="297.20" font-size="10.55"> .6</text>
<path transform="translate(27.53 297.20) scale(0.00515 -0.00515)" d="M515 0L515 1237L197 1010L197 1180L530 1409L696 1409L696 0Z" fill="#1a1a1a" stroke="#1a1a1a" stroke-width="58.2"/>
<text x="36.68" y="503.80" font-size="10.55">- 0</text>
<path transform="translate(40.19 503.80) scale(0.00515 -0.00515)" d="M515 0L515 1237L197 1010L197 1180L530 1409L696 1409L696 0Z" fill="#1a1a1a" stroke="#1a1a1a" stroke-width="58.2"/>
<text x="113.30" y="503.80" text-anchor="middle" font-size="10.55">-5</text>
<text x="184.60" y="503.80" text-anchor="middle" font-size="10.55">0</text>
<text x="254.20" y="503.80" text-anchor="middle" font-size="10.55">5</text>
<text x="318.13" y="503.80" font-size="10.55"> 0</text>
<path transform="translate(318.13 503.80) scale(0.00515 -0.00515)" d="M515 0L515 1237L197 1010L197 1180L530 1409L696 1409L696 0Z" fill="#1a1a1a" stroke="#1a1a1a" stroke-width="58.2"/>
<text x="184.20" y="516.90" text-anchor="middle" font-size="12.4">s [mm]</text>
<path d="M400.5 293.5V490.5H678.4" fill="none" stroke="#585858" stroke-width="1"/>
<line x1="400.5" y1="490.5" x2="678.4" y2="490.5" stroke="#363636" stroke-width="1" stroke-dasharray="3.4 3.07"/>
<line x1="400.5" y1="490.5" x2="400.5" y2="293.5" stroke="#363636" stroke-width="1" stroke-dasharray="3.4 3.07"/>
<path d="M400.5 490.50h3.0" stroke="#363636" stroke-width="1"/>
<path d="M400.5 470.74h3.0" stroke="#363636" stroke-width="1"/>
<path d="M400.5 450.98h3.0" stroke="#363636" stroke-width="1"/>
<path d="M400.5 431.22h3.0" stroke="#363636" stroke-width="1"/>
<path d="M400.5 411.46h3.0" stroke="#363636" stroke-width="1"/>
<path d="M400.5 391.70h3.0" stroke="#363636" stroke-width="1"/>
<path d="M400.5 371.94h3.0" stroke="#363636" stroke-width="1"/>
<path d="M400.5 352.18h3.0" stroke="#363636" stroke-width="1"/>
<path d="M400.5 332.42h3.0" stroke="#363636" stroke-width="1"/>
<path d="M400.5 312.66h3.0" stroke="#363636" stroke-width="1"/>
<path d="M400.5 293.50h3.0" stroke="#363636" stroke-width="1"/>
<path d="M400.50 490.5v-3.0" stroke="#363636" stroke-width="1"/>
<path d="M469.50 490.5v-3.0" stroke="#363636" stroke-width="1"/>
<path d="M538.90 490.5v-3.0" stroke="#363636" stroke-width="1"/>
<path d="M608.50 490.5v-3.0" stroke="#363636" stroke-width="1"/>
<path d="M678.40 490.5v-3.0" stroke="#363636" stroke-width="1"/>
<text x="397.20" y="494.20" text-anchor="end" font-size="10.55">0.95</text>
<text x="397.20" y="474.44" text-anchor="end" font-size="10.55">0.96</text>
<text x="397.20" y="454.68" text-anchor="end" font-size="10.55">0.97</text>
<text x="397.20" y="434.92" text-anchor="end" font-size="10.55">0.98</text>
<text x="397.20" y="415.16" text-anchor="end" font-size="10.55">0.99</text>
<text x="391.33" y="395.40" font-size="10.55"> </text>
<path transform="translate(391.33 395.40) scale(0.00515 -0.00515)" d="M515 0L515 1237L197 1010L197 1180L530 1409L696 1409L696 0Z" fill="#1a1a1a" stroke="#1a1a1a" stroke-width="58.2"/>
<text x="376.67" y="375.64" font-size="10.55"> .0 </text>
<path transform="translate(376.67 375.64) scale(0.00515 -0.00515)" d="M515 0L515 1237L197 1010L197 1180L530 1409L696 1409L696 0Z" fill="#1a1a1a" stroke="#1a1a1a" stroke-width="58.2"/>
<path transform="translate(391.33 375.64) scale(0.00515 -0.00515)" d="M515 0L515 1237L197 1010L197 1180L530 1409L696 1409L696 0Z" fill="#1a1a1a" stroke="#1a1a1a" stroke-width="58.2"/>
<text x="376.67" y="355.88" font-size="10.55"> .02</text>
<path transform="translate(376.67 355.88) scale(0.00515 -0.00515)" d="M515 0L515 1237L197 1010L197 1180L530 1409L696 1409L696 0Z" fill="#1a1a1a" stroke="#1a1a1a" stroke-width="58.2"/>
<text x="376.67" y="336.12" font-size="10.55"> .03</text>
<path transform="translate(376.67 336.12) scale(0.00515 -0.00515)" d="M515 0L515 1237L197 1010L197 1180L530 1409L696 1409L696 0Z" fill="#1a1a1a" stroke="#1a1a1a" stroke-width="58.2"/>
<text x="376.67" y="316.36" font-size="10.55"> .04</text>
<path transform="translate(376.67 316.36) scale(0.00515 -0.00515)" d="M515 0L515 1237L197 1010L197 1180L530 1409L696 1409L696 0Z" fill="#1a1a1a" stroke="#1a1a1a" stroke-width="58.2"/>
<text x="376.67" y="297.20" font-size="10.55"> .05</text>
<path transform="translate(376.67 297.20) scale(0.00515 -0.00515)" d="M515 0L515 1237L197 1010L197 1180L530 1409L696 1409L696 0Z" fill="#1a1a1a" stroke="#1a1a1a" stroke-width="58.2"/>
<text x="391.68" y="503.80" font-size="10.55">- 0</text>
<path transform="translate(395.19 503.80) scale(0.00515 -0.00515)" d="M515 0L515 1237L197 1010L197 1180L530 1409L696 1409L696 0Z" fill="#1a1a1a" stroke="#1a1a1a" stroke-width="58.2"/>
<text x="468.30" y="503.80" text-anchor="middle" font-size="10.55">-5</text>
<text x="539.60" y="503.80" text-anchor="middle" font-size="10.55">0</text>
<text x="609.20" y="503.80" text-anchor="middle" font-size="10.55">5</text>
<text x="673.23" y="503.80" font-size="10.55"> 0</text>
<path transform="translate(673.23 503.80) scale(0.00515 -0.00515)" d="M515 0L515 1237L197 1010L197 1180L530 1409L696 1409L696 0Z" fill="#1a1a1a" stroke="#1a1a1a" stroke-width="58.2"/>
<text x="539.25" y="516.90" text-anchor="middle" font-size="12.4">s [mm]</text>
<rect x="213.7" y="436.2" width="104.8" height="49.2" fill="#ffffff" stroke="#333333" stroke-width="1"/>
<path d="M220.1 445.1H253.4" stroke="#7a7a7a" stroke-width="1.4" stroke-dasharray="17.8 5"/>
<path d="M220.3 461.4H253.2" stroke="#6464ff" stroke-width="1.2"/>
<path d="M220.3 475.6H253.2" stroke="#ff7070" stroke-width="1.2"/>
<text x="257.2" y="449.9" font-size="10.6">isentropic</text>
<text x="257.2" y="465.9" font-size="10.6">integrated</text>
<text x="257.20" y="480.10" font-size="10.6"> D analysis</text>
<path transform="translate(257.20 480.10) scale(0.00518 -0.00518)" d="M515 0L515 1237L197 1010L197 1180L530 1409L696 1409L696 0Z" fill="#1a1a1a" stroke="#1a1a1a" stroke-width="58.0"/>
<text x="119.6" y="11.7" font-size="12.3">normal velocity component</text>
<text x="467.4" y="11.7" font-size="12.45">tangential velocity component</text>
<text x="148.2" y="283.8" font-size="12.45">static pressure</text>
<text x="505.9" y="283.8" font-size="12.45">total pressure</text>
<text transform="translate(10.7 139.5) rotate(-90) scale(1 0.9)" font-size="12">u<tspan font-size="9" dx="1.8" dy="4.6">n</tspan><tspan dx="-1.4" dy="-4.6"> [m/s]</tspan></text>
<text transform="translate(366.3 138.1) rotate(-90) scale(1 0.9)" font-size="12">u<tspan font-size="9" dx="0.3" dy="4.6">t</tspan><tspan dx="-0.9" dy="-4.6"> [m/s]</tspan></text>
<text transform="translate(14.0 403.9) rotate(-90) scale(1 0.9)" font-size="12.4">p/p<tspan font-size="10.5" dx="-1.6" dy="6.4" fill="#5a5a5a" stroke="#5a5a5a" stroke-width="0.15">∞</tspan></text>
<text transform="translate(363.6 407.2) rotate(-90) scale(1 0.9)" font-size="12.4">pt/pt<tspan font-size="10.5" dx="-2.6" dy="6.4" fill="#5a5a5a" stroke="#5a5a5a" stroke-width="0.15">∞</tspan></text>
</g>
</svg>
</body></html>
